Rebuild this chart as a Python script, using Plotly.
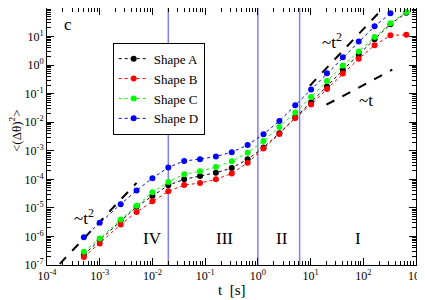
import numpy as np
import plotly.graph_objects as go

t = [5e-4, 1e-3, 2.5e-3, 5e-3, 0.01, 0.02, 0.04, 0.08, 0.16, 0.32, 0.64,
     1.28, 2.56, 5.12, 10.24, 20.48, 40.96, 81.92, 163.84, 327.68, 655.36]

shape_a = [2.3e-7, 7.4e-7, 3.6e-6, 1.1e-5, 2.6e-5, 6.2e-5, 1.0e-4, 1.3e-4, 1.7e-4, 2.5e-4, 5.0e-4,
           1.3e-3, 4.1e-3, 1.45e-2, 4.9e-2, 0.18, 0.67, 2.4, 8.1, 27, 68]
shape_b = [1.9e-7, 5.7e-7, 2.6e-6, 7.2e-6, 1.7e-5, 3.8e-5, 6.3e-5, 7.4e-5, 1.0e-4, 1.6e-4, 3.8e-4,
           1.2e-3, 3.9e-3, 1.4e-2, 4.2e-2, 0.145, 0.51, 1.66, 5.0, 11, 11.5]
shape_c = [2.9e-7, 8.5e-7, 3.9e-6, 1.2e-5, 3.5e-5, 8.1e-5, 1.5e-4, 1.9e-4, 2.7e-4, 4.3e-4, 8.5e-4,
           2.2e-3, 6.8e-3, 2.2e-2, 7.6e-2, 0.28, 0.96, 3.0, 9.7, 29, 72]
t_d = t[:20]
shape_d = [9.3e-7, 3.0e-6, 1.35e-5, 4.1e-5, 1.1e-4, 2.6e-4, 4.4e-4, 5.1e-4, 6.3e-4, 8.9e-4, 1.6e-3,
           3.8e-3, 1.1e-2, 3.9e-2, 0.14, 0.52, 1.9, 6.7, 23, 65]

regime_bounds = [0.02, 1.0, 6.2]
regime_labels = ["IV", "III", "II", "I"]

guide_t2_left_t = [1.75e-4, 5e-3]
guide_t2_left_v = [1.1e-7, 7.5e-5]
guide_t2_right_t = [9.7, 200]
guide_t2_right_v = [0.19, 70]
guide_t1_t = [20, 355]
guide_t1_v = [0.041, 0.69]

xtick_exp = list(range(-4, 4))
ytick_exp = list(range(-7, 3))

FONT = "Liberation Serif, Times New Roman, Times, serif"

fig = go.Figure()

series = [("Shape A", shape_a, t, "#000000"),
          ("Shape B", shape_b, t, "#ff0000"),
          ("Shape C", shape_c, t, "#00ff00"),
          ("Shape D", shape_d, t_d, "#0000ff")]

for xb in regime_bounds:
    fig.add_trace(go.Scatter(x=[xb, xb], y=[1e-7, 1e2], mode="lines",
                             line=dict(color="#8080ff", width=1.5),
                             showlegend=False, hoverinfo="skip"))

for gx, gy in [(guide_t2_left_t, guide_t2_left_v),
               (guide_t2_right_t, guide_t2_right_v),
               (guide_t1_t, guide_t1_v)]:
    fig.add_trace(go.Scatter(x=gx, y=gy, mode="lines",
                             line=dict(color="black", width=2, dash="dash"),
                             showlegend=False, hoverinfo="skip"))

for name, vals, tt, col in series:
    fig.add_trace(go.Scatter(x=tt, y=vals, mode="lines+markers", name=name,
                             line=dict(color=col, width=1, dash="dot"),
                             marker=dict(color=col, size=6)))

axis_common = dict(type="log", showline=True, linecolor="black", linewidth=1,
                   mirror="allticks", ticks="inside", ticklen=7, tickcolor="black",
                   showgrid=False, zeroline=False, automargin=False,
                   tickfont=dict(family=FONT, size=12, color="black"),
                   minor=dict(ticks="inside", ticklen=4, tickcolor="black",
                              dtick="D1", showgrid=False))

fig.update_xaxes(**axis_common, range=[-4, 3],
                 tickvals=[10.0 ** e for e in xtick_exp],
                 ticktext=[f"10<sup>{e}</sup>" for e in xtick_exp])
fig.update_yaxes(**axis_common, range=[-7, 2],
                 tickvals=[10.0 ** e for e in ytick_exp],
                 ticktext=[f"10<sup>{e}</sup>" for e in ytick_exp])

fig.add_annotation(text="t  [s]", x=0.5, y=-0.097, xref="paper", yref="paper",
                   showarrow=False, xanchor="center", yanchor="middle",
                   font=dict(family=FONT, size=15, color="black"))
fig.add_annotation(text="<(Δθ)<sup>2</sup>>", x=-0.085, y=0.52, xref="paper", yref="paper",
                   showarrow=False, xanchor="center", yanchor="middle", textangle=-90,
                   font=dict(family=FONT, size=13, color="black"))

annots = [("c", 0.057, 0.934, 17),
          ("~t<sup>2</sup>", 0.10, 0.185, 17),
          ("~t<sup>2</sup>", 0.772, 0.872, 17),
          ("~t", 0.864, 0.64, 17)]
label_x = [0.287, 0.482, 0.637, 0.843]
for lab, lx in zip(regime_labels, label_x):
    annots.append((lab, lx, 0.105, 17))

for txt, ax_, ay_, fs in annots:
    fig.add_annotation(text=txt, x=ax_, y=ay_, xref="paper", yref="paper",
                       showarrow=False, xanchor="center", yanchor="middle",
                       font=dict(family=FONT, size=fs, color="black"))

# page body has an 8px default margin: figure is shifted so the plot lands in place
fig.update_layout(width=417, height=292, template="none",
                  margin=dict(l=39, r=9, t=0, b=35),
                  plot_bgcolor="white", paper_bgcolor="white",
                  font=dict(family=FONT, color="black"),
                  showlegend=True,
                  legend=dict(x=0.178, y=0.865, xanchor="left", yanchor="top",
                              bgcolor="white", bordercolor="black", borderwidth=1,
                              font=dict(family=FONT, size=13, color="black"),
                              itemwidth=30, tracegroupgap=0))

fig.write_html("out.html")
